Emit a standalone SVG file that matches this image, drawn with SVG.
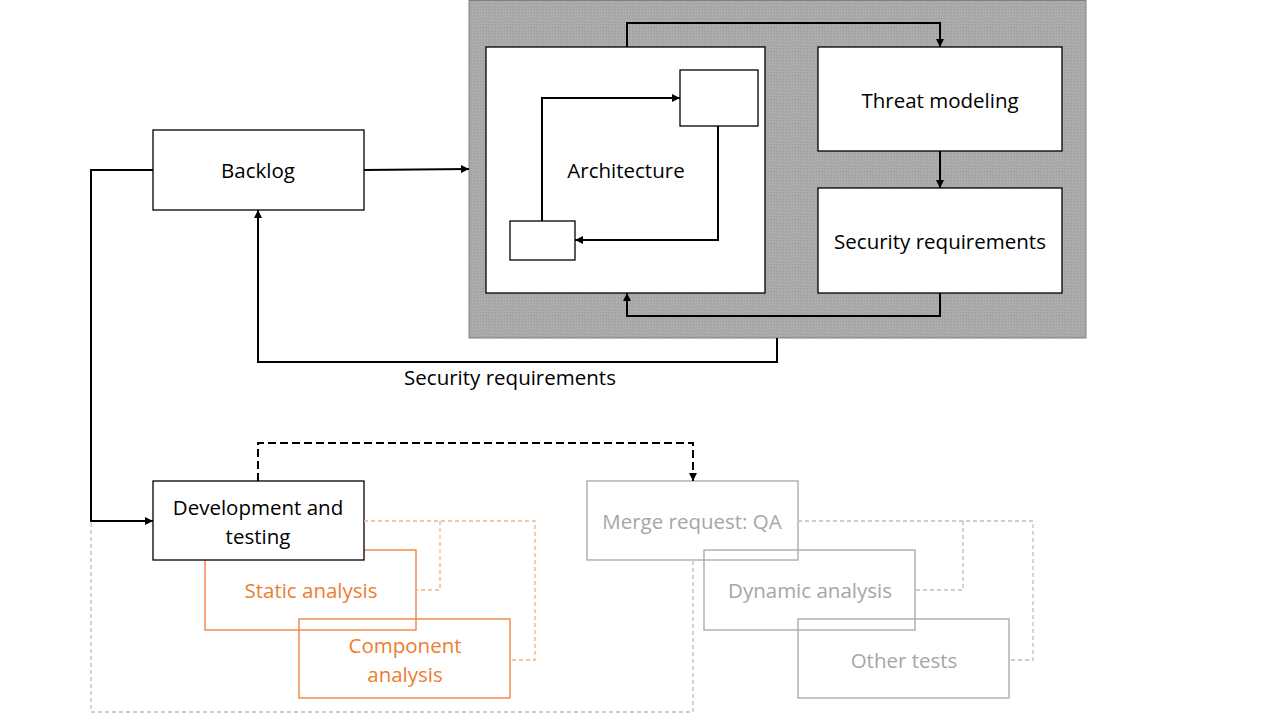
<svg xmlns="http://www.w3.org/2000/svg" width="1280" height="720" viewBox="0 0 1280 720">
<defs>
<marker id="ah" viewBox="0 0 10 10" refX="10" refY="5" markerWidth="8" markerHeight="8" markerUnits="userSpaceOnUse" orient="auto"><path d="M0,0 L10,5 L0,10 z" fill="#000"/></marker>
<pattern id="hatch" width="3" height="3" patternUnits="userSpaceOnUse"><rect width="3" height="3" fill="#adadad"/><rect width="1" height="1" fill="#979797"/><rect x="2" y="1" width="1" height="1" fill="#a0a0a0"/></pattern>
<style>
text{font-family:"Open Sans","Noto Sans",sans-serif;font-size:20.5px;text-anchor:middle;dominant-baseline:central}
.b{fill:#fff;stroke:#000;stroke-width:1.3}
.o{fill:none;stroke:#ED7D31;stroke-width:1.3}
.g{fill:none;stroke:#a6a6a6;stroke-width:1.3}
.tk{fill:#000}
.to{fill:#ED7D31}
.tg{fill:#a6a6a6}
.c{fill:none;stroke:#000;stroke-width:2}
.cd{fill:none;stroke:#000;stroke-width:2;stroke-dasharray:8 4}
.od{fill:none;stroke:#F4B183;stroke-width:1.3;stroke-dasharray:4 3}
.gd{fill:none;stroke:#bfbfbf;stroke-width:1.3;stroke-dasharray:4 3}
</style>
</defs>
<rect id="panel" x="469" y="0.5" width="617" height="337.5" fill="url(#hatch)" stroke="#808080" stroke-width="1"/>
<g id="architecture"><rect class="b" x="486" y="47" width="279" height="246"/><text class="tk" x="626" y="170">Architecture</text></g>
<g id="arch-box-a"><rect class="b" x="680" y="70" width="78" height="56"/></g>
<g id="arch-box-b"><rect class="b" x="510" y="221" width="65" height="39"/></g>
<g id="threat"><rect class="b" x="818" y="47" width="244" height="104"/><text class="tk" x="940" y="100">Threat modeling</text></g>
<g id="secreq"><rect class="b" x="818" y="188" width="244" height="105"/><text class="tk" x="940" y="241">Security requirements</text></g>
<g id="backlog"><rect class="b" x="153" y="130" width="211" height="80"/><text class="tk" x="258" y="170">Backlog</text></g>
<g id="dev"><rect class="o" x="205" y="550" width="211" height="80"/><rect class="b" x="153" y="481" width="211" height="79"/><text class="tk" x="258" y="507">Development and</text><text class="tk" x="258" y="536">testing</text></g>
<g id="static"><text class="to" x="311" y="590">Static analysis</text></g>
<g id="component"><rect class="o" x="299" y="619" width="211" height="79"/><text class="to" x="405" y="645">Component</text><text class="to" x="405" y="674">analysis</text></g>
<g id="merge"><rect class="g" x="587" y="481" width="211" height="79"/><text class="tg" x="692" y="521">Merge request: QA</text></g>
<g id="dynamic"><rect class="g" x="704" y="550" width="211" height="80"/><text class="tg" x="810" y="590">Dynamic analysis</text></g>
<g id="other"><rect class="g" x="798" y="619" width="211" height="79"/><text class="tg" x="904" y="660">Other tests</text></g>
<g id="connectors">
<path class="c" d="M542,221 V98 H680" marker-end="url(#ah)"/>
<path class="c" d="M718,126 V240 H575" marker-end="url(#ah)"/>
<path class="c" d="M627,47 V23 H940 V47" marker-end="url(#ah)"/>
<path class="c" d="M940,151 V188" marker-end="url(#ah)"/>
<path class="c" d="M940,293 V316 H627 V293" marker-end="url(#ah)"/>
<path class="c" d="M364,170 L469,169" marker-end="url(#ah)"/>
<path class="c" d="M777,338 V362 H258 V210" marker-end="url(#ah)"/>
<path class="c" d="M153,170 H91 V521 H153" marker-end="url(#ah)"/>
<path class="cd" d="M258,481 V443 H693 V481" marker-end="url(#ah)"/>
<path class="od" d="M364,521 H535 V660 H510"/>
<path class="od" d="M440,521 V590 H416"/>
<path class="gd" d="M91,523 V712 H693 V560"/>
<path class="gd" d="M798,521 H1033 V660 H1009"/>
<path class="gd" d="M963,521 V590 H915"/>
<text class="tk" x="510" y="377">Security requirements</text>
</g>
</svg>
